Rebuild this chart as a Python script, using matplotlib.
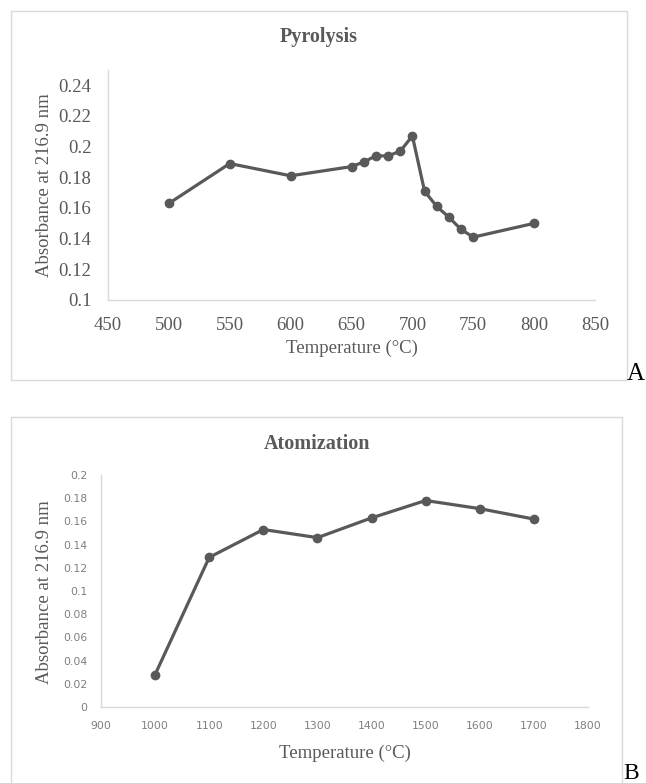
#! /usr/bin/env python3
#
# Pyrolysis / atomization curves (absorbance at 216.9 nm)
#
import matplotlib as mpl
mpl.use('Agg')
import matplotlib.pyplot as plt
from matplotlib.patches import Rectangle

# panel A - pyrolysis
pyro_temp = [500, 550, 600, 650, 660, 670, 680, 690, 700, 710, 720, 730, 740, 750, 800]
pyro_abs = [0.163, 0.189, 0.181, 0.187, 0.190, 0.194, 0.194, 0.197, 0.207,
            0.171, 0.161, 0.154, 0.146, 0.141, 0.150]
pyro_xticks = [450, 500, 550, 600, 650, 700, 750, 800, 850]
pyro_yticks = [0.1, 0.12, 0.14, 0.16, 0.18, 0.2, 0.22, 0.24]

# panel B - atomization
atom_temp = [1000, 1100, 1200, 1300, 1400, 1500, 1600, 1700]
atom_abs = [0.028, 0.129, 0.153, 0.146, 0.163, 0.178, 0.171, 0.162]
atom_xticks = [900, 1000, 1100, 1200, 1300, 1400, 1500, 1600, 1700, 1800]
atom_yticks = [0, 0.02, 0.04, 0.06, 0.08, 0.1, 0.12, 0.14, 0.16, 0.18, 0.2]

W, H = 646, 783
LINE = '#595959'
TEXT = '#595959'
GRID = '#d9d9d9'
SERIF = 'Liberation Serif'


def fx(px):
    return px / W


def fy(py):
    return 1 - py / H


def fmt(v):
    s = ('%.2f' % v).rstrip('0').rstrip('.')
    return s


fig = plt.figure(figsize=(W / 100, H / 100), dpi=100)

# outer boxes
for (x0, y0, x1, y1) in [(11, 11, 627, 380), (11, 417, 622, 790)]:
    fig.patches.append(Rectangle((fx(x0), fy(y1)), fx(x1) - fx(x0), fy(y0) - fy(y1),
                                 transform=fig.transFigure, fill=False,
                                 edgecolor=GRID, linewidth=1.0))


def setup(ax, xticks, yticks, tickfont, tickcolor, ticksize, pad):
    for s in ['top', 'right']:
        ax.spines[s].set_visible(False)
    for s in ['left', 'bottom']:
        ax.spines[s].set_color(GRID)
        ax.spines[s].set_linewidth(1.0)
    ax.set_xticks(xticks)
    ax.set_yticks(yticks)
    ax.set_xticklabels([str(t) for t in xticks])
    ax.set_yticklabels([fmt(t) for t in yticks])
    ax.tick_params(length=0, pad=pad, colors=tickcolor, labelsize=ticksize)
    for lab in ax.get_xticklabels() + ax.get_yticklabels():
        lab.set_fontfamily(tickfont)


# --- panel A
axA = fig.add_axes([fx(108), fy(300), fx(595) - fx(108), fy(70) - fy(300)])
axA.plot(pyro_temp, pyro_abs, color=LINE, lw=2.3, marker='o', ms=6, clip_on=False)
axA.set_xlim(450, 850)
axA.set_ylim(0.1, 0.25)
setup(axA, pyro_xticks, pyro_yticks, SERIF, TEXT, 13.5, 12)

fig.text(fx(319), fy(37), 'Pyrolysis', ha='center', va='center',
         fontsize=14.5, fontweight='bold', family=SERIF, color=TEXT)
fig.text(fx(45), fy(185), 'Absorbance at 216.9 nm', ha='center', va='center',
         rotation=90, fontsize=13.5, family=SERIF, color=TEXT)
fig.text(fx(352), fy(348), 'Temperature (°C)', ha='center', va='center',
         fontsize=13.5, family=SERIF, color=TEXT)
fig.text(fx(627), fy(380), 'A', ha='left', va='baseline',
         fontsize=18, family=SERIF, color='black')

# --- panel B
axB = fig.add_axes([fx(101), fy(707), fx(588) - fx(101), fy(475) - fy(707)])
axB.plot(atom_temp, atom_abs, color=LINE, lw=2.3, marker='o', ms=6, clip_on=False)
axB.set_xlim(900, 1800)
axB.set_ylim(0, 0.2)
setup(axB, atom_xticks, atom_yticks, 'DejaVu Sans', '#7f7f7f', 7.8, 10)

fig.text(fx(317), fy(444), 'Atomization', ha='center', va='center',
         fontsize=14.5, fontweight='bold', family=SERIF, color=TEXT)
fig.text(fx(45), fy(592), 'Absorbance at 216.9 nm', ha='center', va='center',
         rotation=90, fontsize=13.5, family=SERIF, color=TEXT)
fig.text(fx(345), fy(753), 'Temperature (°C)', ha='center', va='center',
         fontsize=13.5, family=SERIF, color=TEXT)
fig.text(fx(623), fy(779), 'B', ha='left', va='baseline',
         fontsize=17, family=SERIF, color='black')

plt.savefig('out.png', dpi=100)
